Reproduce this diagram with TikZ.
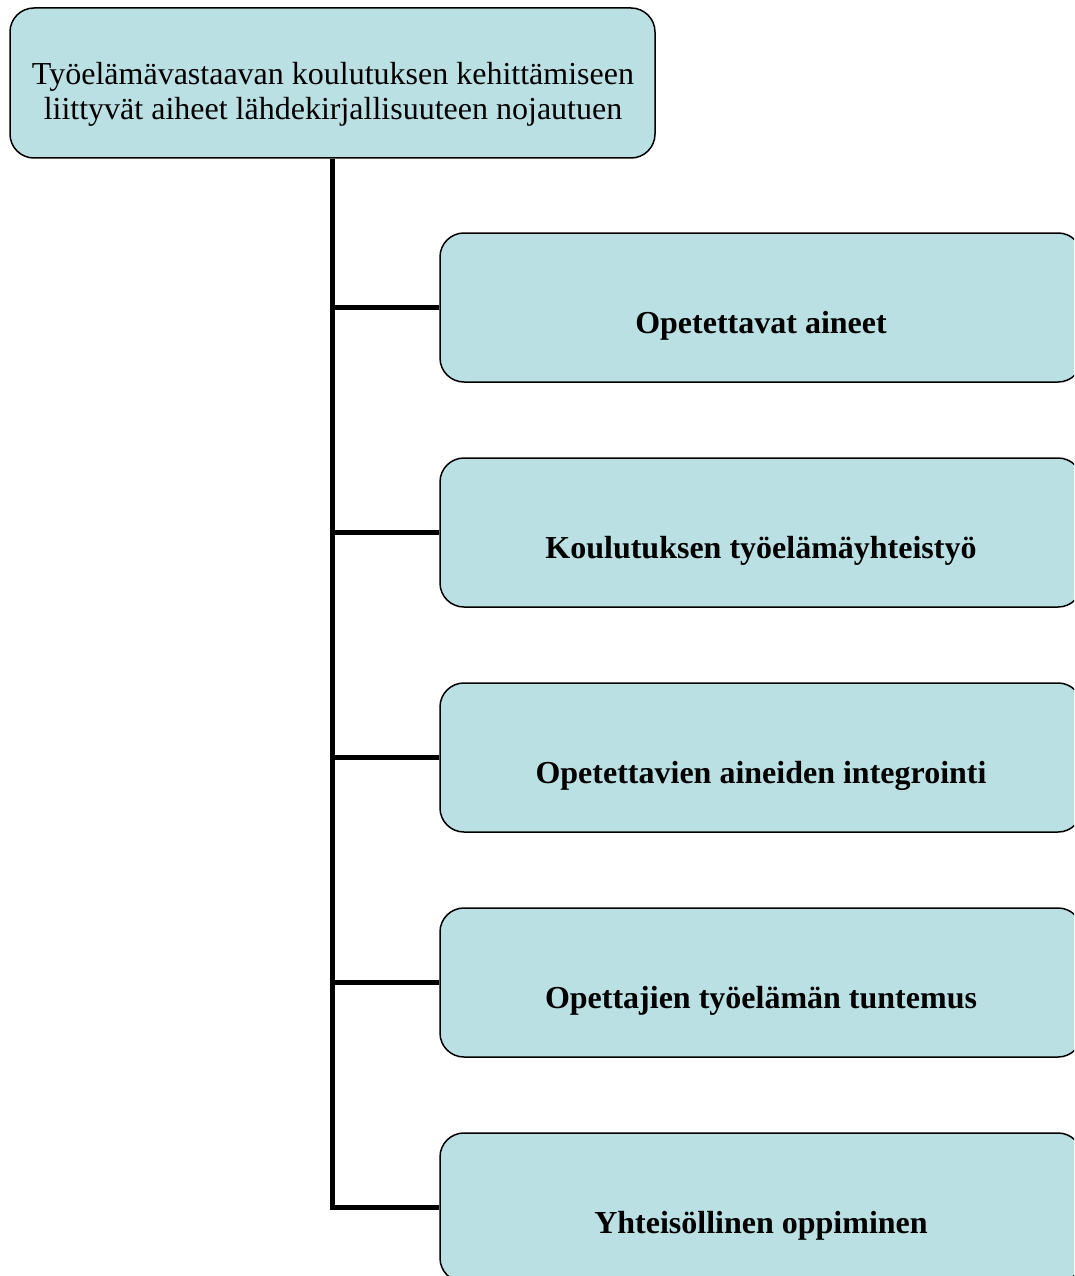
\documentclass[tikz,border=0pt]{standalone}
\usepackage{fontspec}
\setmainfont{Liberation Serif}
\definecolor{boxfill}{HTML}{BBE0E3}
\tikzset{
  box/.style={draw=black, line width=1.5pt, fill=boxfill, rounded corners=24pt, inner sep=0pt},
  topbox/.style={box, minimum width=645pt, minimum height=150pt},
  childbox/.style={box, minimum width=642pt, minimum height=149pt},
  label/.style={font=\fontsize{32}{36}\selectfont\bfseries, inner sep=0pt},
  conn/.style={draw=black, line width=5pt}
}
\begin{document}
\begin{tikzpicture}[x=1pt,y=-1pt]
\useasboundingbox (0,0) rectangle (1074,1276);
\clip (0,0) rectangle (1074,1276);
\node[topbox] (top) at (332.5,83) {};
\node[align=center, font=\fontsize{32}{35}\selectfont, inner sep=0pt] (toptext) at (333,94) {Työelämävastaavan koulutuksen kehittämiseen\\liittyvät aiheet lähdekirjallisuuteen nojautuen};
\foreach \i/\y/\t in {1/307.5/Opetettavat aineet, 2/532.5/Koulutuksen työelämäyhteistyö, 3/757.5/Opetettavien aineiden integrointi, 4/982.5/Opettajien työelämän tuntemus, 5/1207.5/Yhteisöllinen oppiminen}{
  \node[childbox] (c\i) at (761,\y) {};
  \node[label] (t\i) at (761,\y+18) {\t};
}
\draw[conn] (top.south) -- (top.south |- c5.west) -- (c5.west);
\foreach \i in {1,...,4}{
  \draw[conn] (top.south |- c\i.west) -- (c\i.west);
}
\end{tikzpicture}
\end{document}
